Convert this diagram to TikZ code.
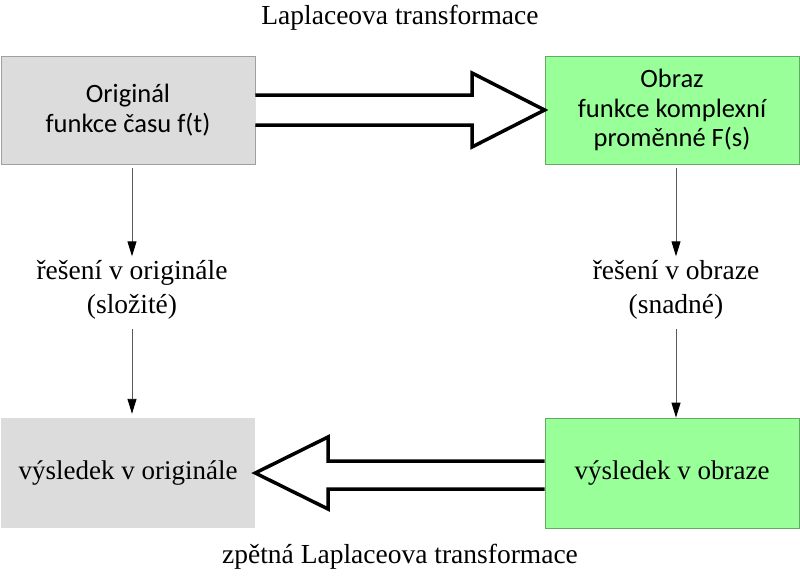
\documentclass[tikz,border=0pt]{standalone}
\usepackage{fontspec}
\setmainfont{Liberation Serif}
\newfontfamily\boxfont{Carlito}
\usetikzlibrary{arrows.meta,calc}
\definecolor{boxgray}{RGB}{220,220,220}
\definecolor{boxgrayline}{RGB}{160,160,160}
\definecolor{boxgreen}{RGB}{153,255,153}
\definecolor{boxgreenline}{RGB}{100,170,100}
\begin{document}
\begin{tikzpicture}[x=1pt,y=-1pt,
  box/.style={minimum width=254pt,minimum height=108pt,inner sep=0pt,align=center,
    font=\boxfont\fontsize{26.5}{29.5}\selectfont},
  graybox/.style={box,fill=boxgray},
  greenbox/.style={box,fill=boxgreen,draw=boxgreenline,line width=0.8pt},
  serif/.style={align=center,font=\fontsize{27.5}{34}\selectfont,inner sep=0pt},
  thin/.style={draw=black!65,line width=0.9pt,-{Triangle[length=15pt,width=9pt,color=black,fill=black]}},
  block/.style={draw=black,line width=3.5pt,fill=white,line join=miter}
]
\useasboundingbox (0,0) rectangle (800,579);
\node[graybox,draw=boxgrayline,line width=0.8pt] (orig) at (128,110) {Originál\\funkce času f(t)};
\node[greenbox] (obraz) at (672,110) {Obraz\\funkce komplexní\\proměnné F(s)};
\node[graybox,minimum height=110pt,font=\fontsize{27}{29}\selectfont] (vorig) at (128,473) {výsledek v originále};
\node[greenbox,minimum height=110pt,font=\fontsize{27}{29}\selectfont] (vobr) at (672,473) {výsledek v obraze};
\node[serif] (top) at (400,18) {Laplaceova transformace};
\node[serif] (bot) at (400,557) {zpětná Laplaceova transformace};
\node[serif] (rorig) at (132,290) {řešení v originále\\(složité)};
\node[serif] (robr) at (676,290) {řešení v obraze\\(snadné)};
% thin arrows
\draw[thin] ($(orig.south)+(4,4)$) -- ($(rorig.north)+(0,-4)$);
\draw[thin] ($(rorig.south)+(0,9)$) -- ($(vorig.north)+(4,-4)$);
\draw[thin] ($(obraz.south)+(4,4)$) -- ($(robr.north)+(0,-4)$);
\draw[thin] ($(robr.south)+(0,9)$) -- (vobr.north -| robr.south);
% block arrows
\draw[block] ($(orig.east)+(0,-15)$) -- (472,95) -- (472,73) -- (obraz.west) -- (472,147) -- (472,125) -- ($(orig.east)+(0,15)$);
\draw[block] ($(vobr.west)+(0,-12)$) -- (328,461) -- (328,437) -- (vorig.east) -- (328,509) -- (328,489) -- ($(vobr.west)+(0,16)$);
\end{tikzpicture}
\end{document}
